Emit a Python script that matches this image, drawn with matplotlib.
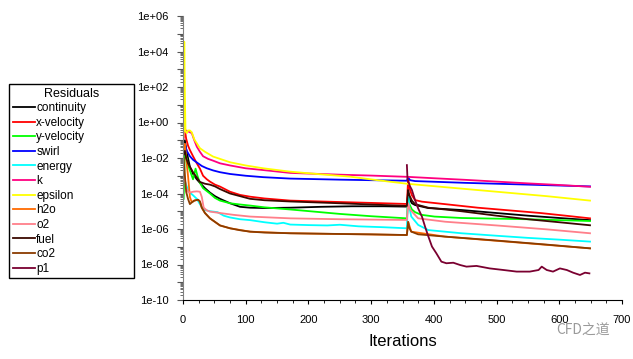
import numpy as np
import matplotlib
matplotlib.use('Agg')
import matplotlib.pyplot as plt
from matplotlib.ticker import FixedLocator, LogLocator, MultipleLocator

plt.rcParams['font.family'] = ['Liberation Sans', 'DejaVu Sans']

# residual history: iteration numbers and log10(residual)
continuity_it = [1, 3, 5, 8, 11, 16, 22, 27, 35, 43, 51, 59, 75, 91, 107, 130, 171, 220, 270, 320, 357,
                 359, 361, 365, 370, 391, 444, 500, 550, 600, 649]
continuity_lg = [-1.3, -1.0, -1.5, -2.0, -2.5, -2.9, -3.2, -3.4, -3.7, -3.95, -4.15, -4.3, -4.55, -4.75, -4.8,
                 -4.82, -4.8, -4.75, -4.72, -4.72, -4.74, -4.0, -4.3, -4.55, -4.65, -4.82, -4.93, -5.1, -5.25,
                 -5.38, -5.5]

xvel_it = [1, 3, 5, 8, 11, 16, 22, 27, 32, 38, 43, 51, 59, 75, 91, 107, 130, 171, 250, 300, 357,
           359, 361, 365, 370, 381, 418, 470, 520, 570, 610, 649]
xvel_lg = [-0.8, -0.4, -0.9, -1.3, -1.55, -1.9, -2.3, -2.6, -3.0, -3.2, -3.33, -3.5, -3.61, -3.9, -4.08,
           -4.18, -4.28, -4.4, -4.48, -4.53, -4.59, -3.2, -3.7, -4.1, -4.37, -4.46, -4.6, -4.8, -4.95,
           -5.1, -5.25, -5.4]

yvel_it = [1, 2, 3, 5, 8, 11, 14, 16, 18, 20, 23, 27, 32, 43, 51, 59, 75, 91, 107, 130, 171, 250, 300,
           357, 359, 361, 365, 370, 380, 401, 444, 550, 649]
yvel_lg = [-4.3, -3.0, -1.4, -1.9, -2.4, -2.7, -3.0, -3.2, -2.9, -2.6, -3.0, -3.4, -3.7, -4.0, -4.25,
           -4.4, -4.55, -4.62, -4.68, -4.78, -4.9, -5.15, -5.28, -5.4, -4.2, -4.6, -4.9, -5.05, -5.2,
           -5.3, -5.38, -5.45, -5.55]

swirl_it = [1, 3, 6, 11, 16, 22, 30, 38, 48, 59, 75, 100, 128, 171, 250, 300, 357, 359, 362, 370,
            450, 550, 649]
swirl_lg = [-1.5, -1.2, -1.6, -1.9, -2.1, -2.25, -2.45, -2.58, -2.7, -2.8, -2.9, -3.0, -3.08, -3.16,
            -3.22, -3.25, -3.28, -3.1, -3.25, -3.3, -3.4, -3.5, -3.6]

energy_it = [1, 3, 5, 8, 11, 16, 22, 27, 32, 43, 55, 65, 75, 91, 107, 130, 150, 160, 171, 200, 230,
             250, 280, 320, 357, 359, 361, 364, 375, 391, 444, 500, 550, 600, 649]
energy_lg = [-3.0, -3.3, -3.5, -3.8, -3.95, -4.1, -4.3, -4.6, -4.9, -5.0, -5.05, -5.25, -5.35, -5.45,
             -5.5, -5.62, -5.7, -5.65, -5.75, -5.78, -5.8, -5.76, -5.85, -5.9, -5.96, -4.0, -4.8, -5.3,
             -5.77, -6.06, -6.24, -6.38, -6.5, -6.6, -6.71]

k_it = [1, 3, 5, 8, 11, 14, 18, 22, 27, 32, 40, 48, 59, 75, 100, 128, 171, 250, 300, 357, 400, 450,
        500, 550, 600, 649]
k_lg = [-0.9, -0.5, -0.45, -0.5, -0.55, -0.6, -1.0, -1.36, -1.65, -1.9, -2.05, -2.15, -2.3, -2.42,
        -2.58, -2.68, -2.84, -2.94, -2.99, -3.06, -3.14, -3.23, -3.33, -3.43, -3.52, -3.62]

eps_it = [1, 2, 3, 4, 6, 8, 11, 14, 18, 22, 27, 35, 48, 59, 75, 100, 128, 171, 220, 266, 310, 357,
          420, 500, 580, 649]
eps_lg = [-0.8, 4.55, 1.5, -0.5, -0.6, -0.45, -0.45, -0.55, -0.95, -1.17, -1.45, -1.65, -1.92, -2.05,
          -2.24, -2.42, -2.58, -2.77, -2.92, -3.05, -3.25, -3.45, -3.65, -3.9, -4.15, -4.4]

h2o_it = [1, 3, 5, 8, 11, 14, 18, 24, 27, 30, 35, 43, 59, 75, 107, 171, 357, 359, 364, 418, 649]
h2o_lg = [-1.5, -1.2, -2.0, -3.0, -4.2, -4.5, -4.4, -4.35, -4.45, -4.8, -5.1, -5.4, -5.8, -5.96,
          -6.15, -6.24, -6.34, -5.6, -6.15, -6.43, -7.09]

o2_it = [1, 3, 5, 8, 11, 16, 22, 27, 30, 33, 38, 43, 59, 80, 107, 171, 250, 357, 359, 362, 365, 375,
         418, 500, 580, 649]
o2_lg = [-2.5, -3.2, -3.7, -3.9, -3.95, -3.9, -3.88, -3.9, -4.2, -4.8, -4.95, -5.02, -5.1, -5.2,
         -5.3, -5.4, -5.45, -5.49, -4.55, -4.9, -5.02, -5.4, -5.59, -5.8, -6.02, -6.24]

fuel_it = [1, 3, 5, 8, 11, 16, 22, 27, 35, 43, 51, 59, 75, 91, 107, 130, 171, 250, 300, 357, 359,
           361, 365, 370, 391, 444, 500, 550, 600, 649]
fuel_lg = [-1.8, -1.6, -2.0, -2.3, -2.5, -2.8, -3.1, -3.35, -3.45, -3.5, -3.6, -3.75, -4.0, -4.15,
           -4.3, -4.38, -4.45, -4.55, -4.62, -4.7, -3.8, -4.1, -4.4, -4.6, -4.8, -5.0, -5.25, -5.45,
           -5.62, -5.79]

co2_it = [1, 3, 5, 8, 11, 14, 18, 24, 27, 30, 35, 43, 51, 59, 75, 91, 107, 130, 171, 250, 300, 357,
          359, 361, 364, 375, 418, 500, 580, 649]
co2_lg = [-2.0, -3.0, -3.9, -4.3, -4.6, -4.5, -4.4, -4.35, -4.45, -4.8, -5.1, -5.4, -5.6, -5.8,
          -5.96, -6.07, -6.15, -6.2, -6.24, -6.28, -6.3, -6.34, -5.6, -5.95, -6.15, -6.3, -6.43, -6.65,
          -6.88, -7.09]

p1_it = [357, 358, 360, 362, 365, 370, 375, 381, 386, 391, 397, 404, 412, 420, 431, 442, 452, 468,
         489, 511, 532, 553, 567, 572, 580, 590, 601, 612, 622, 633, 641, 648]
p1_lg = [-2.4, -3.2, -3.4, -3.6, -3.8, -4.37, -4.84, -5.3, -5.87, -6.4, -6.99, -7.37, -7.84, -7.93,
         -7.9, -8.03, -8.12, -8.08, -8.22, -8.31, -8.4, -8.4, -8.31, -8.12, -8.31, -8.4, -8.22, -8.31,
         -8.46, -8.59, -8.46, -8.5]

series = [
    ('continuity', continuity_it, continuity_lg, '#000000'),
    ('x-velocity', xvel_it, xvel_lg, '#ff0000'),
    ('y-velocity', yvel_it, yvel_lg, '#00ff00'),
    ('swirl', swirl_it, swirl_lg, '#0000ff'),
    ('energy', energy_it, energy_lg, '#00ffff'),
    ('k', k_it, k_lg, '#ff0080'),
    ('epsilon', eps_it, eps_lg, '#ffff00'),
    ('h2o', h2o_it, h2o_lg, '#ff6a00'),
    ('o2', o2_it, o2_lg, '#ff7f8a'),
    ('fuel', fuel_it, fuel_lg, '#3a0800'),
    ('co2', co2_it, co2_lg, '#8a3c00'),
    ('p1', p1_it, p1_lg, '#7a0030'),
]

fig = plt.figure(figsize=(6.33, 3.59), dpi=100)
ax = fig.add_axes([183 / 633, 1 - 300 / 359, 439 / 633, 284 / 359])

for name, it, lg, col in series:
    ax.plot(it, np.power(10.0, lg), color=col, lw=1.3, label=name)

ax.set_yscale('log')
ax.set_xlim(0, 700)
ax.set_ylim(1e-10, 1e6)

ax.spines['top'].set_visible(False)
ax.spines['right'].set_visible(False)
ax.spines['left'].set_color('#808080')
ax.spines['bottom'].set_color('#000000')

decades = list(range(-10, 7))
ax.yaxis.set_major_locator(FixedLocator([10.0 ** d for d in decades]))
ax.set_yticklabels(['1e%+03d' % d if d % 2 == 0 else '' for d in decades])
ax.yaxis.set_minor_locator(LogLocator(base=10, subs=np.arange(2, 10), numticks=40))
ax.xaxis.set_major_locator(MultipleLocator(100))
ax.xaxis.set_minor_locator(MultipleLocator(25))
ax.tick_params(axis='both', which='major', labelsize=8, width=0.8)
ax.tick_params(axis='x', which='major', length=3, pad=8)
ax.tick_params(axis='both', which='minor', length=2, width=0.6)
ax.tick_params(axis='y', which='both', color='#555555')
ax.tick_params(axis='y', which='major', length=4.5, pad=6)

ax.set_xlabel('Iterations', fontsize=12, labelpad=6)

fig.legend(loc='upper left', bbox_to_anchor=(9 / 633, 1 - 281 / 359, 125 / 633, 197 / 359),
           mode='expand', title='Residuals', fontsize=8.5, title_fontsize=9, frameon=True,
           fancybox=False, edgecolor='black', framealpha=1, handlelength=1.9, handletextpad=0.1,
           labelspacing=0.22, borderpad=0.3, borderaxespad=0)

fig.text(583 / 633, 1 - 331 / 359, 'CFD之道', family=['Noto Sans CJK SC', 'DejaVu Sans'],
         color='#9a9a9a', fontsize=10, ha='center', va='center')

fig.savefig('out.png', dpi=100)
